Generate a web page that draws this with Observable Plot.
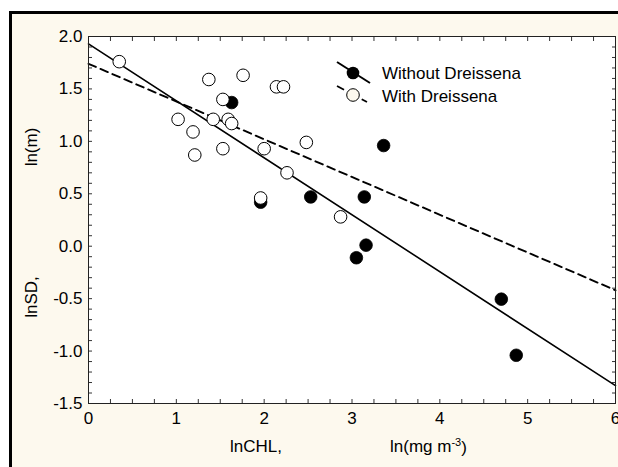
<!DOCTYPE html>
<html><head><meta charset="utf-8">
<script src="https://cdn.jsdelivr.net/npm/d3@7"></script>
<script src="https://cdn.jsdelivr.net/npm/@observablehq/plot@0.6"></script>
<style>
html,body{margin:0;padding:0;background:#fff;overflow:hidden;width:618px;height:467px;}
#wrap{position:absolute;left:0;top:0;width:618px;height:467px;}
#panel{position:absolute;left:9px;top:11px;width:700px;height:600px;border-left:3px solid #000;border-top:3px solid #000;background:#fdf9ee;}
#chart{position:absolute;left:0;top:0;}
</style></head><body>
<div id="wrap"><div id="panel"></div><div id="chart"></div></div>
<script>
// ---- data ----
const xTicks = [0, 1, 2, 3, 4, 5, 6];
const yTicks = [-1.5, -1.0, -0.5, 0.0, 0.5, 1.0, 1.5, 2.0];
const xMinor = d3.range(0, 24.01, 1).map(d => d / 4);
const yMinor = d3.range(-15, 20.01, 1).map(d => d / 10);

const withoutX = [1.63, 1.96, 2.53, 3.05, 3.14, 3.16, 3.36, 4.70, 4.87];
const withoutY = [1.37, 0.42, 0.47, -0.11, 0.47, 0.01, 0.96, -0.505, -1.04];

const withX = [0.35, 1.02, 1.19, 1.21, 1.37, 1.42, 1.53, 1.53, 1.59, 1.63, 1.76, 1.96, 2.00, 2.14, 2.22, 2.26, 2.48, 2.87];
const withY = [1.76, 1.21, 1.09, 0.87, 1.59, 1.21, 1.40, 0.93, 1.21, 1.17, 1.63, 0.46, 0.93, 1.52, 1.52, 0.70, 0.99, 0.28];

const fitX = [0, 6];
const withoutFitY = [1.93, -1.33];
const withFitY = [1.74, -0.42];

const seriesNames = ["Without Dreissena", "With Dreissena"];
const xTitle = ["lnCHL,", "ln(mg m", "-3", ")"];
const yTitle = ["lnSD,", "ln(m)"];

// ---- tables ----
const without = withoutX.map((x, i) => ({x, y: withoutY[i]}));
const withD = withX.map((x, i) => ({x, y: withY[i]}));
const fitWithout = fitX.map((x, i) => ({x, y: withoutFitY[i]}));
const fitWith = fitX.map((x, i) => ({x, y: withFitY[i]}));

const FONT = "Arial, 'Liberation Sans', sans-serif";
const FS = 17;
const R = 6.3;
const TK = 4;

const svg = Plot.plot({
  width: 618, height: 467,
  marginLeft: 88, marginRight: 3, marginTop: 36, marginBottom: 64,
  style: {background: "transparent", fontFamily: FONT, fontSize: FS + "px", color: "#000"},
  x: {domain: [0, 6]},
  y: {domain: [-1.5, 2.0]},
  marks: [
    Plot.frame({fill: "white", stroke: null}),
    Plot.axisX({anchor: "bottom", ticks: xMinor, tickSize: TK, dy: -TK, text: null, label: null, stroke: "#333"}),
    Plot.axisX({anchor: "top", ticks: xMinor, tickSize: TK, dy: TK, text: null, label: null, stroke: "#333"}),
    Plot.axisY({anchor: "left", ticks: yMinor, tickSize: TK, dx: TK, text: null, label: null, stroke: "#333"}),
    Plot.axisY({anchor: "right", ticks: yMinor, tickSize: TK, dx: -TK, text: null, label: null, stroke: "#333"}),
    Plot.axisX({anchor: "bottom", ticks: xTicks, tickSize: 0, tickPadding: 8, tickFormat: d => String(d), label: null}),
    Plot.axisY({anchor: "left", ticks: yTicks, tickSize: 0, tickPadding: 6, tickFormat: d => d.toFixed(1), label: null}),
    Plot.line(fitWithout, {x: "x", y: "y", stroke: "black", strokeWidth: 1.6}),
    Plot.line(fitWith, {x: "x", y: "y", stroke: "black", strokeWidth: 1.9, strokeDasharray: "8,5"}),
    Plot.dot(without, {x: "x", y: "y", r: R, fill: "black", stroke: "black", strokeWidth: 0.8}),
    Plot.dot(withD, {x: "x", y: "y", r: R, fill: "white", stroke: "black", strokeWidth: 1}),
    Plot.frame({stroke: "#222", strokeWidth: 1})
  ]
});
document.getElementById("chart").appendChild(svg);

const s = d3.select(svg);
// legend
const lg = s.append("g").attr("font-family", FONT).attr("font-size", FS).attr("text-anchor", "start");
lg.append("line").attr("x1", 337).attr("y1", 62).attr("x2", 370).attr("y2", 83).attr("stroke", "black").attr("stroke-width", 2);
lg.append("circle").attr("cx", 353).attr("cy", 73).attr("r", R).attr("fill", "black");
lg.append("text").attr("x", 382).attr("y", 73).attr("dy", "0.35em").text(seriesNames[0]);
lg.append("line").attr("x1", 337).attr("y1", 86).attr("x2", 367).attr("y2", 102).attr("stroke", "black").attr("stroke-width", 1.8).attr("stroke-dasharray", "8,6");
lg.append("circle").attr("cx", 353).attr("cy", 95).attr("r", R).attr("fill", "#fdf9ee").attr("stroke", "black");
lg.append("text").attr("x", 382).attr("y", 96).attr("dy", "0.35em").text(seriesNames[1]);

// axis titles
const tg = s.append("g").attr("font-family", FONT).attr("font-size", FS).attr("fill", "black");
tg.append("text").attr("x", 256).attr("y", 446).attr("text-anchor", "middle").attr("dy", "0.35em").text(xTitle[0]);
const t2 = tg.append("text").attr("x", 390).attr("y", 446).attr("dy", "0.35em").attr("text-anchor", "start");
t2.append("tspan").text(xTitle[1]);
t2.append("tspan").attr("font-size", 11).attr("dy", "-0.55em").text(xTitle[2]);
t2.append("tspan").attr("dy", "0.4em").text(xTitle[3]);
tg.append("text").attr("transform", "translate(31,297) rotate(-90)").attr("text-anchor", "middle").attr("dy", "0.35em").text(yTitle[0]);
tg.append("text").attr("transform", "translate(31,147) rotate(-90)").attr("text-anchor", "middle").attr("dy", "0.35em").text(yTitle[1]);
</script>
</body></html>
